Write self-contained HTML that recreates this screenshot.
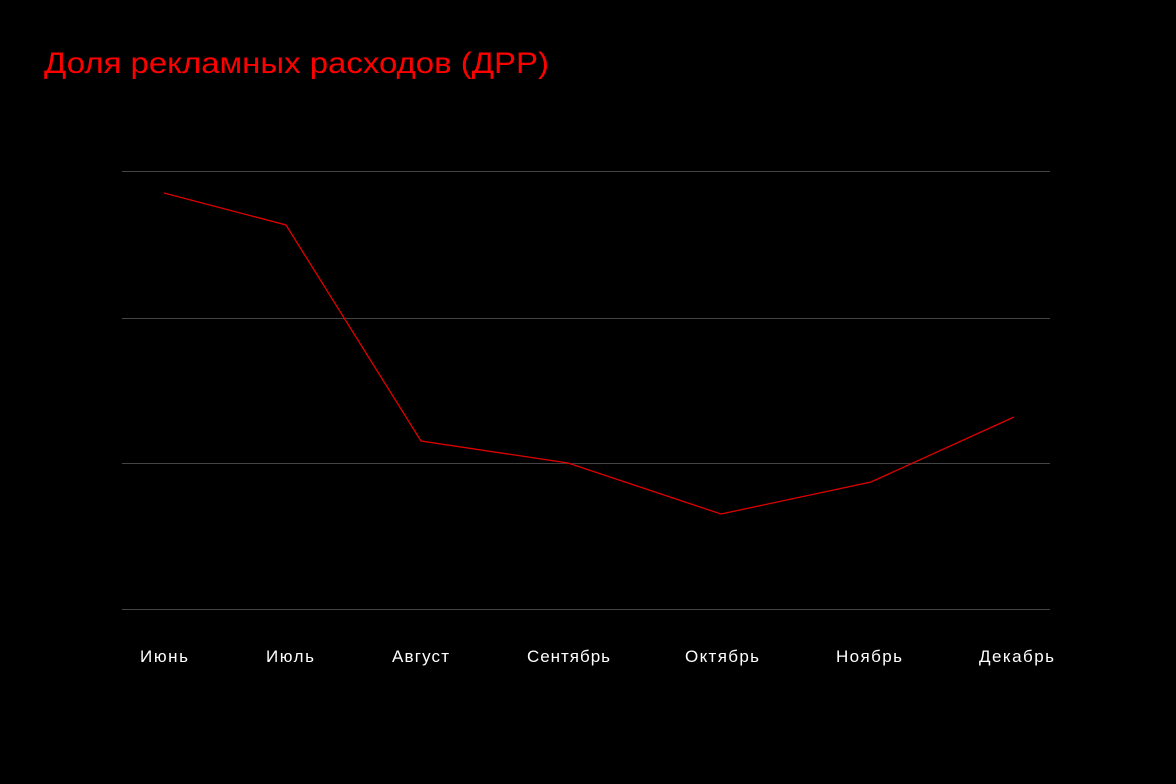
<!DOCTYPE html>
<html><head><meta charset="utf-8"><style>
html,body{margin:0;padding:0;background:#000;}
svg{display:block}
text{font-family:"Liberation Sans","DejaVu Sans",sans-serif;}
</style></head><body>
<svg width="1176" height="784" viewBox="0 0 1176 784">
<rect width="1176" height="784" fill="#000"/>
<text x="44" y="73" fill="#ff0000" font-size="30" textLength="505" lengthAdjust="spacingAndGlyphs">Доля рекламных расходов (ДРР)</text>
<g stroke="#444" stroke-width="1">
<line x1="122" y1="171.5" x2="1050" y2="171.5"/>
<line x1="122" y1="318.5" x2="1050" y2="318.5"/>
<line x1="122" y1="463.5" x2="1050" y2="463.5"/>
<line x1="122" y1="609.5" x2="1050" y2="609.5"/>
</g>
<polyline fill="none" stroke="#e00000" stroke-width="1.3" points="164,193 286,225 421,441 568,463 721,514 871,482 1014,417"/>
<g fill="#fff" font-size="17" lengthAdjust="spacingAndGlyphs">
<text x="140" y="662" textLength="48">Июнь</text>
<text x="266" y="662" textLength="48">Июль</text>
<text x="392" y="662" textLength="57">Август</text>
<text x="527" y="662" textLength="83">Сентябрь</text>
<text x="685" y="662" textLength="74">Октябрь</text>
<text x="836" y="662" textLength="66">Ноябрь</text>
<text x="979" y="662" textLength="75">Декабрь</text>
</g>
</svg>
</body></html>
